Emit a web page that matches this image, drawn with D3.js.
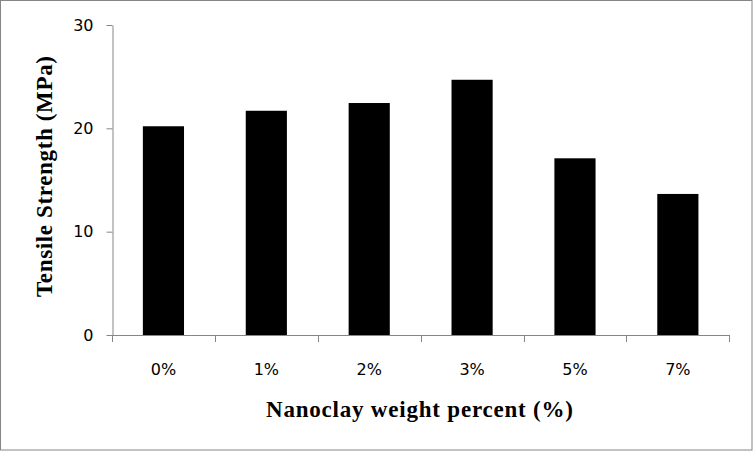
<!DOCTYPE html>
<html><head><meta charset="utf-8">
<script src="https://cdn.jsdelivr.net/npm/d3@7"></script>
<style>body{margin:0;background:#fff}svg{display:block}</style>
</head><body>
<svg id="c" width="753" height="451"></svg>
<script>
const categories = ["0%", "1%", "2%", "3%", "5%", "7%"];
const tensileStrength = [20.2, 21.7, 22.45, 24.7, 17.1, 13.65];
const yTicks = [0, 10, 20, 30];

(function () {
const svg = d3.select("#c");
const W = 753, H = 451;
const pLeft = 112, pRight = 729.3, pTop = 25, pBottom = 335;
const axisColor = "#868686";

svg.append("rect").attr("x", 0.5).attr("y", 0.5).attr("width", W - 1.5).attr("height", H - 1.5)
  .attr("fill", "#fff").attr("stroke", axisColor).attr("stroke-width", 1);

const x = d3.scaleBand().domain(categories).range([pLeft, pRight]).padding(0);
const y = d3.scaleLinear().domain([0, 30]).range([pBottom, pTop]);

// bars
svg.append("g").selectAll("rect").data(categories).join("rect")
  .attr("x", d => x(d) + x.bandwidth() * 0.3)
  .attr("width", x.bandwidth() * 0.4)
  .attr("y", (d, i) => y(tensileStrength[i]))
  .attr("height", (d, i) => y(0) - y(tensileStrength[i]))
  .attr("fill", "#000");

// y axis
const yAxis = svg.append("g").attr("transform", `translate(${pLeft + 0.5},0)`)
  .call(d3.axisLeft(y).tickValues(yTicks).tickSize(6).tickPadding(13).tickSizeOuter(0));
yAxis.select(".domain").attr("stroke", axisColor);
yAxis.selectAll(".tick line").attr("stroke", axisColor);
yAxis.selectAll(".tick text").attr("font-family", "DejaVu Sans").attr("font-size", 16).attr("fill", "#000");

// x axis line and boundary ticks
const bounds = categories.map(c => x(c)).concat([x(categories[categories.length - 1]) + x.bandwidth()]);
svg.append("line").attr("x1", pLeft).attr("x2", pRight).attr("y1", pBottom + 0.5).attr("y2", pBottom + 0.5)
  .attr("stroke", axisColor);
svg.append("g").selectAll("line").data(bounds).join("line")
  .attr("x1", d => Math.round(d) + 0.5).attr("x2", d => Math.round(d) + 0.5)
  .attr("y1", pBottom).attr("y2", pBottom + 7).attr("stroke", axisColor);
svg.append("g").selectAll("text").data(categories).join("text")
  .attr("x", d => x(d) + x.bandwidth() / 2).attr("y", 375)
  .attr("text-anchor", "middle").attr("font-family", "DejaVu Sans").attr("font-size", 16)
  .attr("fill", "#000").text(d => d);

// titles
svg.append("text").attr("x", 419.5).attr("y", 417).attr("text-anchor", "middle")
  .attr("font-family", "Liberation Serif").attr("font-weight", "bold").attr("font-size", 23)
  .attr("textLength", 307).attr("lengthAdjust", "spacing")
  .text("Nanoclay weight percent (%)");
svg.append("text").attr("transform", "translate(52,176.5) rotate(-90)").attr("text-anchor", "middle")
  .attr("font-family", "Liberation Serif").attr("font-weight", "bold").attr("font-size", 23)
  .attr("textLength", 241).attr("lengthAdjust", "spacing")
  .text("Tensile Strength (MPa)");
})();
</script>
</body></html>
